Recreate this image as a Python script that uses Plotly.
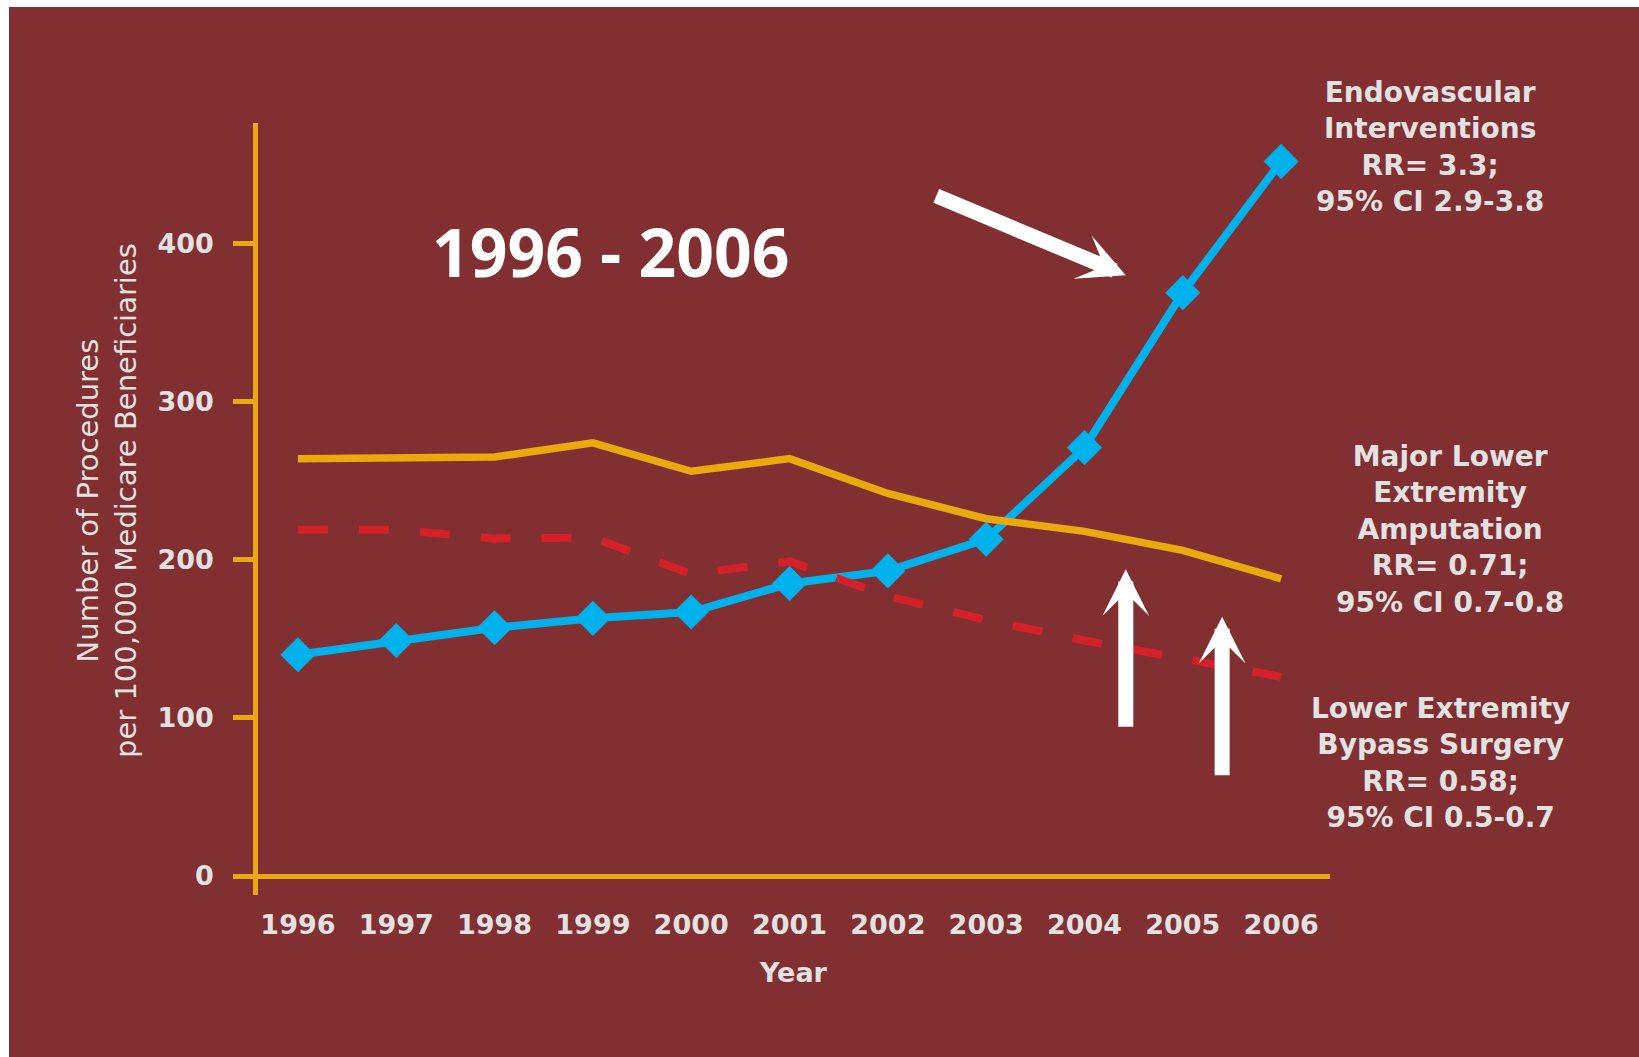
import plotly.graph_objects as go

# Procedure rates per 100,000 Medicare beneficiaries, 1996-2006
years = [1996, 1997, 1998, 1999, 2000, 2001, 2002, 2003, 2004, 2005, 2006]
year_labels = [str(y) for y in years]
endovascular = [140, 149, 157, 163, 167, 185, 193, 213, 271, 369, 452]
amputation = [264, 264, 265, 274, 256, 264, 242, 226, 218, 206, 188]
bypass = [219, 219, 213.5, 214, 191, 199, 177, 162, 149, 138, 126]
y_ticks = [0, 100, 200, 300, 400]

BG = "#822F31"
BLUE = "#00B2EB"
GOLD = "#E8AA0C"
RED = "#D42129"
GRAY = "#E2E2E2"

W, H = 1639, 1057
L, R, T, B = 258, 309, 123, 162
PW, PH = W - L - R, H - T - B


def px_x(p):
    return (p - L) / PW


def px_y(p):
    return 1 - (p - T) / PH


fig = go.Figure()

fig.add_trace(go.Scatter(
    x=years, y=endovascular, mode="lines+markers",
    line=dict(color=BLUE, width=8),
    marker=dict(symbol="diamond", size=27, color=BLUE),
    name="Endovascular Interventions",
))
fig.add_trace(go.Scatter(
    x=years, y=bypass, mode="lines",
    line=dict(color=RED, width=8, dash="30px,31px"),
    name="Lower Extremity Bypass Surgery",
))
fig.add_trace(go.Scatter(
    x=years, y=amputation, mode="lines",
    line=dict(color=GOLD, width=7.5),
    name="Major Lower Extremity Amputation",
))

tick_font = dict(family="DejaVu Sans", size=27, color=GRAY, weight="bold")
note_font = dict(family="DejaVu Sans", size=28, color=GRAY, weight="bold")

annotations = [
    dict(text="1996 - 2006", x=px_x(610), y=px_y(251), xref="paper", yref="paper",
         showarrow=False, xanchor="center", yanchor="middle",
         font=dict(family="Open Sans", size=66, color="white", weight="bold")),
    dict(text="Endovascular<br>Interventions<br>RR= 3.3;<br>95% CI 2.9-3.8",
         x=px_x(1430), y=px_y(147), xref="paper", yref="paper", showarrow=False,
         xanchor="center", yanchor="middle", align="center", font=note_font),
    dict(text="Major Lower<br>Extremity<br>Amputation<br>RR= 0.71;<br>95% CI 0.7-0.8",
         x=px_x(1450), y=px_y(529), xref="paper", yref="paper", showarrow=False,
         xanchor="center", yanchor="middle", align="center", font=note_font),
    dict(text="Lower Extremity<br>Bypass Surgery<br>RR= 0.58;<br>95% CI 0.5-0.7",
         x=px_x(1440), y=px_y(763), xref="paper", yref="paper", showarrow=False,
         xanchor="center", yanchor="middle", align="center", font=note_font),
    dict(text="Number of Procedures<br>per 100,000 Medicare Beneficiaries",
         x=px_x(107), y=px_y(501), xref="paper", yref="paper", showarrow=False,
         xanchor="center", yanchor="middle", align="center", textangle=-90,
         font=dict(family="DejaVu Sans", size=29, color=GRAY)),
    dict(text="Year", x=px_x(793), y=px_y(973), xref="paper", yref="paper", showarrow=False,
         xanchor="center", yanchor="middle", font=tick_font),
]

# white pointer arrows
arrow_style = dict(text="", showarrow=True, arrowhead=3, arrowwidth=15, arrowsize=0.52,
                   arrowcolor="white", xref="x", yref="y", standoff=0,
                   font=dict(size=1))
annotations += [
    dict(x=2004.42, y=380, ax=-191, ay=-80, **arrow_style),
    dict(x=2004.42, y=194, ax=0, ay=159, **arrow_style),
    dict(x=2005.40, y=164, ax=0, ay=160, **arrow_style),
]

fig.update_layout(
    width=W, height=H,
    margin=dict(l=L, r=R, t=T, b=B, pad=0),
    paper_bgcolor="white",
    plot_bgcolor=BG,
    showlegend=False,
    annotations=annotations,
    shapes=[dict(type="rect", xref="paper", yref="paper", layer="below",
                 x0=px_x(9), x1=px_x(W + 10), y0=px_y(H + 10), y1=px_y(7),
                 fillcolor=BG, line=dict(width=0))],
    xaxis=dict(
        range=[1995.594, 2006.497], tickvals=years, ticktext=year_labels,
        showgrid=False, zeroline=False, showline=False, ticks="",
        tickfont=tick_font, ticklabelstandoff=11,
    ),
    yaxis=dict(
        range=[-12.0, 476.3], tickvals=y_ticks,
        showgrid=False, zeroline=True, zerolinecolor=GOLD, zerolinewidth=4.5,
        showline=True, linecolor=GOLD, linewidth=4.5,
        ticks="outside", ticklen=20, tickwidth=4.5, tickcolor=GOLD,
        tickfont=tick_font, ticklabelstandoff=14,
    ),
)

fig.write_html("out.html")
